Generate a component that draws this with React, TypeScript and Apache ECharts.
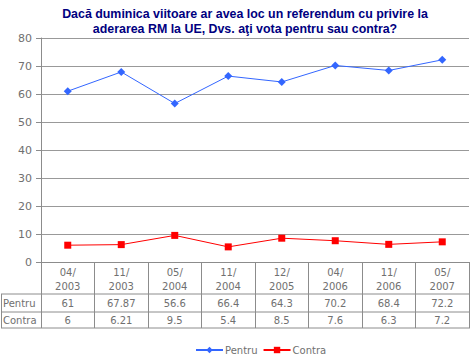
import React, { useEffect, useRef } from "react";
import * as echarts from "echarts";

const categories = ["04/\n2003", "11/\n2003", "05/\n2004", "11/\n2004", "12/\n2005", "04/\n2006", "11/\n2006", "05/\n2007"];
const pentru = [61, 67.87, 56.6, 66.4, 64.3, 70.2, 68.4, 72.2];
const contra = [6, 6.21, 9.5, 5.4, 8.5, 7.6, 6.3, 7.2];
const yTicks = { min: 0, max: 80, interval: 10 };
const title = "Dacă duminica viitoare ar avea loc un referendum cu privire la\naderarea RM la UE, Dvs. aţi vota pentru sau contra?";

const GRAY = "#8c8c8c";
const TXT = "#707070";
const FONT = "DejaVu Sans";

export default function App() {
  const ref = useRef<HTMLDivElement>(null);
  useEffect(() => {
    if (!ref.current) return;
    const chart = echarts.init(ref.current, null, { renderer: "svg" });
    const hline = (y: number) => ({
      type: "line",
      shape: { x1: 1, y1: y, x2: 470, y2: y },
      style: { stroke: GRAY, lineWidth: 1 },
      silent: true,
    });
    chart.setOption({
      animation: false,
      backgroundColor: "#ffffff",
      grid: { left: 41, right: 1, top: 38, bottom: 98, containLabel: false },
      legend: {
        left: 190,
        top: 340,
        itemWidth: 27,
        itemHeight: 8,
        itemGap: 5,
        textStyle: { fontFamily: FONT, fontSize: 10, color: TXT, padding: [0, 0, 0, -3] },
        data: ["Pentru", "Contra"],
      },
      xAxis: [
        {
          type: "category",
          data: categories,
          boundaryGap: true,
          axisLine: { lineStyle: { color: GRAY } },
          axisTick: { show: true, interval: 0, length: 66, lineStyle: { color: GRAY } },
          axisLabel: { interval: 0, margin: 3, fontFamily: FONT, fontSize: 10, color: TXT, lineHeight: 14 },
        },
        {
          type: "category",
          data: pentru.map(String),
          position: "bottom",
          offset: 34,
          axisLine: { show: false },
          axisTick: { show: false },
          axisLabel: { interval: 0, margin: 2, fontFamily: FONT, fontSize: 10, color: TXT },
        },
        {
          type: "category",
          data: contra.map(String),
          position: "bottom",
          offset: 52,
          axisLine: { show: false },
          axisTick: { show: false },
          axisLabel: { interval: 0, margin: 1, fontFamily: FONT, fontSize: 10, color: TXT },
        },
      ],
      yAxis: {
        type: "value",
        min: yTicks.min,
        max: yTicks.max,
        interval: yTicks.interval,
        axisLine: { show: true, lineStyle: { color: GRAY } },
        axisTick: { show: true, length: 5, lineStyle: { color: GRAY } },
        axisLabel: { margin: 9, fontFamily: FONT, fontSize: 11, color: TXT },
        splitLine: { lineStyle: { color: "#999999", width: 1 } },
      },
      series: [
        {
          name: "Pentru",
          type: "line",
          data: pentru,
          xAxisIndex: 0,
          color: "#3366ff",
          lineStyle: { width: 1, color: "#3366ff" },
          symbol: "diamond",
          symbolSize: 8,
          itemStyle: { color: "#3366ff" },
        },
        {
          name: "Contra",
          type: "line",
          data: contra,
          xAxisIndex: 0,
          color: "#ff0000",
          lineStyle: { width: 1, color: "#ff0000" },
          symbol: "rect",
          symbolSize: 7,
          itemStyle: { color: "#ff0000" },
        },
      ],
      graphic: [
        {
          type: "text",
          x: 245,
          y: 6,
          style: {
            text: title,
            textAlign: "center",
            fill: "#000080",
            font: `bold 12.4px "Liberation Sans"`,
            lineHeight: 15,
          },
        },
        hline(294),
        hline(312),
        hline(328),
        {
          type: "line",
          shape: { x1: 1.5, y1: 294, x2: 1.5, y2: 328 },
          style: { stroke: GRAY, lineWidth: 1 },
        },
        {
          type: "text",
          x: 3,
          y: 303,
          style: { text: "Pentru", textVerticalAlign: "middle", fill: TXT, font: `10px "${FONT}"` },
        },
        {
          type: "text",
          x: 3,
          y: 320,
          style: { text: "Contra", textVerticalAlign: "middle", fill: TXT, font: `10px "${FONT}"` },
        },
      ],
    });
    return () => chart.dispose();
  }, []);
  return <div ref={ref} style={{ position: "fixed", left: 0, top: 0, width: 470, height: 360 }} />;
}
